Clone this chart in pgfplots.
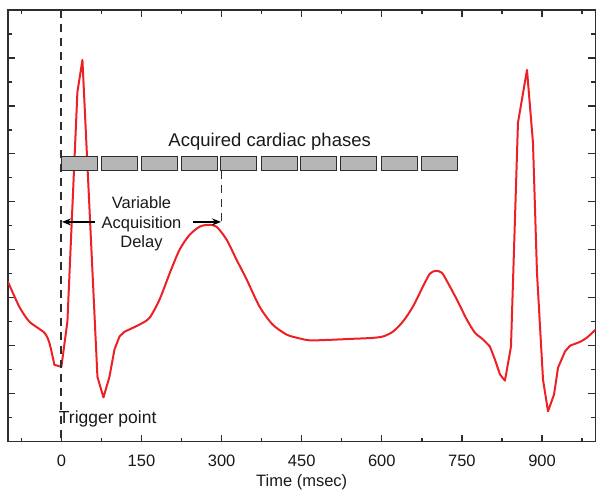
\documentclass[border=0pt]{standalone}
\usepackage{fontspec}
\setmainfont{Liberation Sans}
\usepackage{pgfplots}
\pgfplotsset{compat=1.18}
\usetikzlibrary{calc,arrows.meta}
\definecolor{ecgred}{RGB}{237,32,36}
\definecolor{framegray}{RGB}{45,45,45}
\definecolor{boxgray}{RGB}{182,182,182}

\begin{document}
\begin{tikzpicture}
\begin{axis}[
  scale only axis, width=588pt, height=432pt,
  xmin=-100, xmax=1000, ymin=0, ymax=9,
  xtick={0,150,...,900}, minor xtick={-75,75,...,975},
  ytick={0,...,9}, minor ytick={0.5,1.5,...,8.5}, yticklabels={},
  major tick length=7pt, minor tick length=4pt,
  axis line style={framegray,line width=1.3pt},
  every tick/.style={framegray,line width=1.3pt},
  /pgf/number format/assume math mode=true,
  tick label style={font=\fontsize{16.5}{19}\selectfont, text=black!90},
  label style={font=\fontsize{16.5}{19}\selectfont, text=black!90},
  xlabel={Time (msec)}, xlabel style={yshift=-1pt},
  xticklabel style={yshift=-10pt},
  ecg/.style={ecgred, line width=2pt, line join=round, line cap=round},
]
% baseline before the first beat
\addplot[ecg, smooth, tension=0.4] coordinates {
(-100,3.33) (-78.75,2.81) (-60,2.5) (-31.9,2.27) (-22.5,2.06) (-13.1,1.60)
};
% first QRS
\addplot[ecg] coordinates {
(-13.1,1.60) (0,1.56) (11.25,2.5) (30,7.29) (39.4,7.96) (56.25,4.0) (67.5,1.35)
(78.75,0.92) (90,1.35) (99.4,1.92) (108.75,2.19) (118.1,2.29)
};
% T wave, baseline and P wave
\addplot[ecg, smooth, tension=0.45] coordinates {
(118.1,2.29) (146.25,2.44)
(165,2.58) (183.75,2.96) (202.5,3.5) (221.25,4.0) (240,4.31) (258.75,4.48)
(275.6,4.52) (290.6,4.48) (309.4,4.21) (328.1,3.79) (346.9,3.38) (371.25,2.81)
(395.6,2.44) (421.9,2.23) (446.25,2.15) (465,2.11) (500,2.12) (540,2.14) (580,2.16) (601.9,2.19)
(620.6,2.29) (639.4,2.5) (658.1,2.81) (676.9,3.23) (690,3.5) (701.25,3.56)
(712.5,3.52) (723.75,3.31) (740.6,2.96) (759.4,2.54) (774.4,2.27) (789.4,2.13)
(802.5,1.98)
};
% second QRS
\addplot[ecg] coordinates {
(802.5,1.98) (811.9,1.71) (821.25,1.40) (830.6,1.27) (841.9,1.98) (855,6.65)
(871.9,7.75) (883.1,6.23) (890.6,3.52) (901.9,1.29) (911.25,0.63) (922.5,0.98)
(930,1.54) (943.1,1.88) (952.5,2.0)
};
\addplot[ecg, smooth, tension=0.4] coordinates {
(952.5,2.0) (971.25,2.08) (984.4,2.17) (1000,2.33)
};
% acquired phases
\foreach \s/\e in {0/67,75/142,150/217,225/292,298/365,375/442,448/515,523/590,600/667,675/742}{
  \edef\tmp{\noexpand\draw[framegray, line width=1pt, fill=boxgray]
    (axis cs:\s,5.65) rectangle (axis cs:\e,5.94);}\tmp
}
\node[font=\fontsize{18.5}{21}\selectfont, text=black!90] at (axis cs:390,6.25) {Acquired cardiac phases};
% dashed markers
\draw[framegray, line width=1.8pt, dash pattern=on 8pt off 6pt] (axis cs:0,9) -- (axis cs:0,0);
\draw[framegray, line width=1.8pt, dash pattern=on 8pt off 6pt] (axis cs:300,5.65) -- (axis cs:300,4.52);
% delay arrows
\draw[-{Stealth[length=9pt,width=7pt]}, black, line width=1.6pt] (axis cs:62,4.58) -- (axis cs:1,4.58);
\draw[-{Stealth[length=9pt,width=7pt]}, black, line width=1.6pt] (axis cs:247,4.58) -- (axis cs:299,4.58);
\node[align=center, font=\fontsize{16.5}{19.5}\selectfont, text=black!90] at (axis cs:150,4.54) {Variable\\Acquisition\\Delay};
\node[anchor=west, inner sep=0pt, font=\fontsize{17.5}{20}\selectfont, text=black!90] at (axis cs:-5,0.47) {Trigger point};
\coordinate (ll) at (rel axis cs:0,0);
\coordinate (ur) at (rel axis cs:1,1);
\end{axis}
\pgfresetboundingbox
\path[use as bounding box] ($(ll)+(-8pt,-50pt)$) rectangle ($(ur)+(0.6pt,10pt)$);
\end{tikzpicture}
\end{document}
